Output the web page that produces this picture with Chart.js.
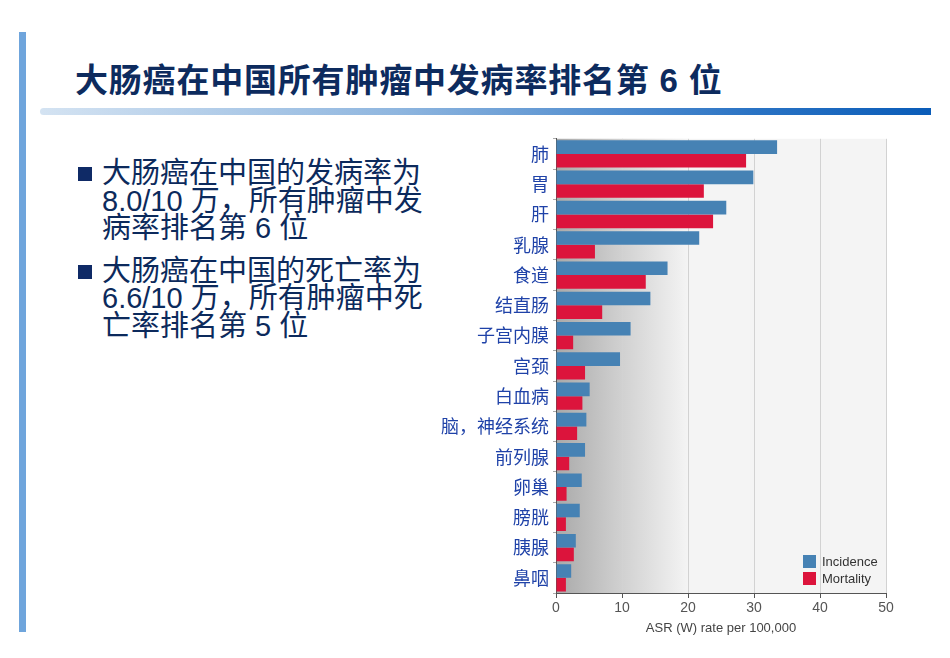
<!DOCTYPE html>
<html>
<head>
<meta charset="utf-8">
<script src="https://cdn.jsdelivr.net/npm/chart.js@4.4.0/dist/chart.umd.min.js"></script>
<style>
  html, body { margin: 0; padding: 0; background: #fff; }
  body { width: 950px; height: 658px; position: relative; overflow: hidden;
         font-family: "Liberation Sans", "Noto Sans CJK SC", sans-serif; }
  .sidebar { position: absolute; left: 19px; top: 32px; width: 7px; height: 600px; background: #6fa5dc; }
  .title { position: absolute; left: 75px; top: 59px; font-size: 33px; font-weight: bold; letter-spacing: 0.8px;
           font-family: "Liberation Sans", "Noto Sans CJK SC", sans-serif;
           color: #0d2b5e; white-space: nowrap; line-height: 44px; }
  .underline { position: absolute; left: 40px; top: 108px; width: 891px; height: 7px;
               border-radius: 4px 0 0 4px;
               background: linear-gradient(to right, #d4e3f2, #8fb6df 40%, #2a73c4 80%, #0a5cb8); }
  .bullets { position: absolute; left: 78px; top: 160px; width: 370px; color: #0c2a5c;
             font-size: 29px; line-height: 27.5px; }
  .bullets p { margin: 0 0 15px 0; padding-left: 24px; position: relative; }
  .bullets p::before { content: ""; position: absolute; left: 0; top: 7px; width: 14px; height: 14px; background: #0f2a66; }
  #wrap { position: absolute; left: 420px; top: 124px; width: 480px; height: 516px; }
</style>
</head>
<body>
<div class="sidebar"></div>
<div class="title">大肠癌在中国所有肿瘤中发病率排名第 6 位</div>
<div class="underline"></div>
<div class="bullets">
  <p>大肠癌在中国的发病率为<br>8.0/10 万，所有肿瘤中发<br>病率排名第 6 位</p>
  <p>大肠癌在中国的死亡率为<br>6.6/10 万，所有肿瘤中死<br>亡率排名第 5 位</p>
</div>
<div id="wrap"><canvas id="chart"></canvas></div>
<script>
const categories = ['肺', '胃', '肝', '乳腺', '食道', '结直肠', '子宫内膜', '宫颈', '白血病', '脑，神经系统', '前列腺', '卵巢', '膀胱', '胰腺', '鼻咽'];
const incidence = [33.5, 29.9, 25.8, 21.7, 16.9, 14.3, 11.3, 9.7, 5.1, 4.6, 4.4, 3.9, 3.6, 3.0, 2.3];
const mortality = [28.8, 22.4, 23.8, 5.9, 13.6, 7.0, 2.6, 4.4, 4.0, 3.2, 2.0, 1.6, 1.5, 2.7, 1.5];
const xTicks = [0, 10, 20, 30, 40, 50];

const bgPlugin = {
  id: 'bg',
  beforeDraw(chart) {
    const { ctx, chartArea: a, scales } = chart;
    const x20 = scales.x.getPixelForValue(20);
    const g = ctx.createLinearGradient(a.left, 0, x20, 0);
    g.addColorStop(0, '#a9a9a9');
    g.addColorStop(0.45, '#cdcdcd');
    g.addColorStop(1, '#f4f4f4');
    ctx.save();
    ctx.fillStyle = '#f4f4f4';
    ctx.fillRect(a.left, a.top, a.right - a.left, a.bottom - a.top);
    ctx.fillStyle = g;
    ctx.fillRect(a.left, a.top, x20 - a.left, a.bottom - a.top);
    ctx.restore();
  }
};

const legendPlugin = {
  id: 'innerLegend',
  afterDatasetsDraw(chart) {
    const { ctx, chartArea: a } = chart;
    ctx.save();
    ctx.font = '13px "Liberation Sans", Arial, sans-serif';
    ctx.textBaseline = 'middle';
    chart.data.datasets.forEach((ds, i) => {
      const y = a.bottom - 38 + i * 17;
      ctx.fillStyle = ds.backgroundColor;
      ctx.fillRect(a.right - 83, y, 13, 13);
      ctx.fillStyle = '#333';
      ctx.fillText(ds.label, a.right - 64, y + 7);
    });
    ctx.restore();
  }
};

new Chart(document.getElementById('chart'), {
  type: 'bar',
  data: {
    labels: categories,
    datasets: [
      { label: 'Incidence', data: incidence, backgroundColor: '#4682b4', categoryPercentage: 0.9, barPercentage: 1.0 },
      { label: 'Mortality', data: mortality, backgroundColor: '#dc143c', categoryPercentage: 0.9, barPercentage: 1.0 }
    ]
  },
  options: {
    indexAxis: 'y',
    responsive: true,
    maintainAspectRatio: false,
    animation: false,
    layout: { padding: { top: 6, right: 14, bottom: 0, left: 0 } },
    plugins: {
      legend: { display: false },
      tooltip: { enabled: false }
    },
    scales: {
      x: {
        min: 0,
        max: 50,
        afterBuildTicks: (s) => { s.ticks = xTicks.map(v => ({ value: v })); },
        afterFit: (s) => { s.height = 47; },
        grid: { color: '#d2d2d2', tickColor: '#555', tickLength: 5 },
        border: { color: '#555' },
        ticks: { color: '#555', font: { size: 14, family: '"Liberation Sans", Arial, sans-serif' }, padding: 2 },
        title: { display: true, text: 'ASR (W) rate per 100,000', color: '#444',
                 font: { size: 13, family: '"Liberation Sans", Arial, sans-serif' }, padding: { top: 2 } }
      },
      y: {
        afterFit: (s) => { s.width = 136; },
        grid: { display: true, drawOnChartArea: false, color: '#aaa', tickLength: 3 },
        border: { color: '#555' },
        ticks: { color: '#1f42a8', font: { size: 18, family: '"Noto Sans CJK SC", sans-serif' }, padding: 4 }
      }
    }
  },
  plugins: [bgPlugin, legendPlugin]
});
</script>
</body>
</html>
